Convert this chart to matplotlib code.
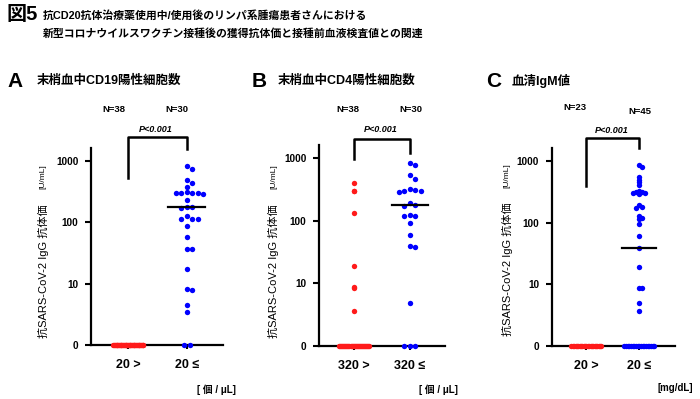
import numpy as np
import matplotlib
matplotlib.use("Agg")
import matplotlib.pyplot as plt

plt.rcParams['font.family'] = ['Liberation Sans', 'Noto Sans CJK JP', 'DejaVu Sans']

# --- data ---
cats_a = ['20 >', '20 ≤']
cats_b = ['320 >', '320 ≤']
cats_c = ['20 >', '20 ≤']

a_low = [0] * 38
a_high = [819, 724, 497, 437, 381, 308, 305, 300, 300, 296, 290, 234, 178, 175, 172,
          125, 115, 113, 111, 88, 57, 37, 36, 17.6, 8.2, 8.0, 4.5, 3.4, 0, 0]
b_low = [398, 302, 300, 131, 18.6, 8.6, 8.4, 3.6] + [0] * 30
b_high = [847, 770, 532, 460, 325, 305, 302, 298, 288, 190, 178, 174, 122, 119, 117,
          93, 60, 39, 38, 4.8, 0, 0, 0]
c_low = [0] * 23
c_high = [867, 795, 547, 495, 447, 400, 320, 312, 308, 302, 296, 290, 190, 180, 175,
          130, 120, 115, 94, 60, 39, 18.8, 8.8, 8.5, 4.9, 3.6] + [0] * 19

medians = [175, 176, 38.5]
n_labels = [('N=38', 'N=30'), ('N=38', 'N=30'), ('N=23', 'N=45')]
letters = ['A', 'B', 'C']
titles = ['末梢血中CD19陽性細胞数', '末梢血中CD4陽性細胞数', '血清IgM値']
units = ['[ 個 / μL]', '[ 個 / μL]', '[mg/dL]']
yticks = [0, 10, 100, 1000]

RED = '#ff1a1a'
BLUE = '#0000ff'

fig = plt.figure(figsize=(7, 3.99), dpi=100)


def px(x, y):
    return x / 700, 1 - y / 399


def fwd(v):
    return np.log10(np.maximum(v, 1))


def inv(v):
    return 10 ** np.asarray(v)


def swarm(ax, vals, step, diam, max_w=30):
    # simple beeswarm in pixel space, zeros squeezed into a band
    vals = np.asarray(vals, float)
    p0 = ax.transData.transform((0, 1))
    p1 = ax.transData.transform((1, 10))
    ppu = p1[0] - p0[0]
    ppd = p1[1] - p0[1]
    out = np.zeros(len(vals))
    ylog = fwd(vals) * ppd
    zero = vals <= 0
    nz = zero.sum()
    if nz:
        w = min((nz - 1) * step, max_w)
        out[zero] = np.linspace(-w / 2, w / 2, nz) / ppu
    placed = []
    for i in np.argsort(-vals):
        if zero[i]:
            continue
        x = 0
        for c in [0, 1, -1, 2, -2, 3, -3, 4, -4, 5, -5]:
            x = c * step
            if all((x - qx) ** 2 + (ylog[i] - qy) ** 2 >= diam ** 2 for qx, qy in placed):
                break
        placed.append((x, ylog[i]))
        out[i] = x / ppu
    return out


# axes rects in pixels: left, top, right, bottom
rects = [(91, 148, 223, 345), (319, 145, 445, 345.7), (551.7, 148, 675, 345.7)]
xlims = [(-0.64, 1.62), (-0.63, 1.63), (-0.66, 1.68)]
groups = [(a_low, a_high), (b_low, b_high), (c_low, c_high)]
cats = [cats_a, cats_b, cats_c]
steps = [[(5.5, 5.5), (5.5, 5.5)], [(5.5, 0.0), (5.5, 5.5)], [(3.0, 2.6), (3.0, 2.6)]]
brackets = [(0.848, 1.056, 0.995), (0.93, 1.03, 0.96), (0.808, 1.049, 1.0)]
p_y = [1.095, 1.078, 1.091]
n_pos = [[(114, 109), (177, 109)], [(348, 109), (411, 109)], [(575, 108), (640, 111.5)]]
ylab_x = [43, 273.5, 507]
ylab_y = [(271, 177), (271.5, 177), (269.5, 176)]
letter_x = [7, 251.5, 486.5]
title_x = [37, 278, 511.5]
unit_pos = [(236, 390), (458, 390), (693, 388)]

for k in range(3):
    l, t, r, b = rects[k]
    ax = fig.add_axes([l / 700, 1 - b / 399, (r - l) / 700, (b - t) / 399])
    ax.set_yscale('function', functions=(fwd, inv))
    ax.set_ylim(0, 10 ** 3.21)
    ax.set_xlim(*xlims[k])
    for s in ['top', 'right']:
        ax.spines[s].set_visible(False)
    for s in ['left', 'bottom']:
        ax.spines[s].set_linewidth(1.6)
    ax.set_yticks(yticks)
    ax.set_yticklabels([str(v) for v in yticks], fontsize=7.2, fontweight='bold')
    ax.yaxis.set_minor_locator(matplotlib.ticker.NullLocator())
    ax.set_xticks([0, 1])
    ax.set_xticklabels(cats[k], fontsize=9, fontweight='bold')
    ax.tick_params(axis='y', length=4, width=1.5, pad=5)
    ax.tick_params(axis='x', length=3, width=1.5, pad=7)

    for j, (vals, col) in enumerate(zip(groups[k], [RED, BLUE])):
        xo = swarm(ax, vals, *steps[k][j])
        ax.scatter(j + xo, vals, s=15, color=col, linewidths=0, zorder=3, clip_on=False)

    ax.plot([0.68, 1.32], [medians[k]] * 2, color='black', lw=1.6, zorder=4)

    bl, bt, br = brackets[k]
    tr = ax.get_xaxis_transform()
    ax.plot([0, 0, 1, 1], [bl, bt, bt, br], color='black', lw=1.8, transform=tr, clip_on=False)
    ax.text(0.47, p_y[k], 'P<0.001', transform=tr, ha='center', va='center',
            fontsize=6.5, fontweight='bold', fontstyle='italic')

    for (nx, ny), lab in zip(n_pos[k], n_labels[k]):
        fig.text(*px(nx, ny), lab, ha='center', va='center', fontsize=6.8, fontweight='bold')

    fig.text(*px(ylab_x[k], ylab_y[k][0]), '抗SARS-CoV-2 IgG 抗体価', rotation=90,
             ha='center', va='center', fontsize=8)
    fig.text(*px(ylab_x[k], ylab_y[k][1]), '[U/mL]', rotation=90,
             ha='center', va='center', fontsize=6)

    fig.text(*px(letter_x[k], 81.5), letters[k], ha='left', va='center',
             fontsize=15, fontweight='bold')
    fig.text(*px(title_x[k], 81), titles[k], ha='left', va='center',
             fontsize=9, fontweight='bold')
    fig.text(*px(*unit_pos[k]), units[k], ha='right', va='center',
             fontsize=7, fontweight='bold')

fig.text(*px(6, 15), '図5', ha='left', va='center', fontsize=14.5, fontweight='bold')
fig.text(*px(43, 15.5), '抗CD20抗体治療薬使用中/使用後のリンパ系腫瘍患者さんにおける',
         ha='left', va='center', fontsize=7.8, fontweight='bold')
fig.text(*px(43, 33.5), '新型コロナウイルスワクチン接種後の獲得抗体価と接種前血液検査値との関連',
         ha='left', va='center', fontsize=7.8, fontweight='bold')

fig.savefig('out.png', dpi=100)
